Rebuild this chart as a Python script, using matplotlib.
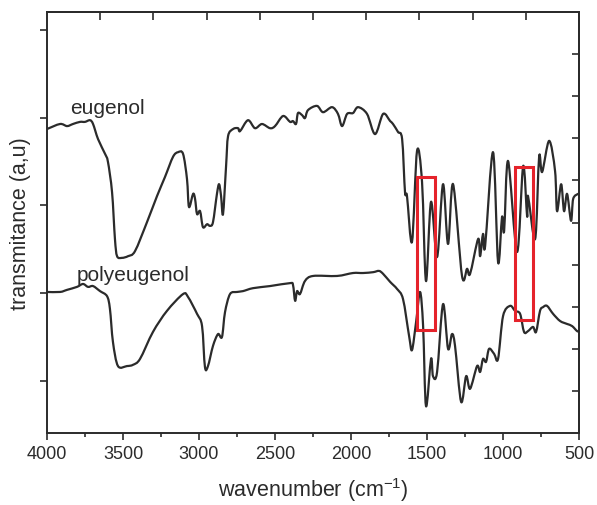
import numpy as np
import matplotlib.pyplot as plt
from matplotlib.patches import Rectangle, PathPatch
from matplotlib.path import Path

plt.rcParams['font.family'] = ['Liberation Sans', 'DejaVu Sans']
plt.rcParams['mathtext.fontset'] = 'custom'
plt.rcParams['mathtext.rm'] = 'Liberation Sans'

# eugenol spectrum (wavenumber, transmittance a.u.)
eug_wn = [4000, 3914, 3868, 3829, 3783, 3750, 3717, 3697, 3664, 3618, 3599, 3572, 3553, 3539,
          3507, 3467, 3421, 3342, 3276, 3224, 3171, 3138, 3105, 3079, 3066, 3039, 3026, 3013,
          2993, 2974, 2947, 2928, 2908, 2882, 2868, 2855, 2842, 2822, 2809, 2776, 2743, 2730,
          2678, 2632, 2586, 2533, 2500, 2447, 2401, 2382, 2362, 2349, 2322, 2303, 2283, 2224,
          2184, 2125, 2086, 2059, 2026, 1987, 1954, 1895, 1842, 1789, 1743, 1724, 1691, 1664,
          1645, 1632, 1599, 1566, 1533, 1507, 1474, 1434, 1395, 1362, 1329, 1270, 1237, 1217,
          1164, 1151, 1132, 1118, 1066, 1033, 1007, 993, 967, 908, 868, 842, 836, 789, 763,
          743, 697, 658, 645, 618, 599, 579, 553, 539, 507]
eug_t = [0.722, 0.734, 0.729, 0.734, 0.739, 0.739, 0.743, 0.734, 0.698, 0.663, 0.644, 0.572, 0.461, 0.420,
         0.416, 0.420, 0.432, 0.501, 0.563, 0.608, 0.656, 0.667, 0.663, 0.603, 0.537, 0.568, 0.556, 0.520,
         0.527, 0.489, 0.496, 0.492, 0.501, 0.568, 0.591, 0.563, 0.520, 0.634, 0.705, 0.722, 0.724, 0.717,
         0.743, 0.724, 0.734, 0.724, 0.729, 0.753, 0.739, 0.741, 0.734, 0.760, 0.755, 0.748, 0.767, 0.777,
         0.762, 0.774, 0.758, 0.729, 0.758, 0.760, 0.774, 0.758, 0.710, 0.758, 0.741, 0.734, 0.715, 0.698,
         0.572, 0.563, 0.454, 0.670, 0.596, 0.361, 0.549, 0.418, 0.591, 0.449, 0.591, 0.373, 0.390, 0.378,
         0.461, 0.420, 0.473, 0.444, 0.667, 0.406, 0.513, 0.480, 0.646, 0.430, 0.634, 0.515, 0.563, 0.461, 0.656,
         0.620, 0.694, 0.622, 0.527, 0.591, 0.527, 0.568, 0.504, 0.556, 0.568]

# polyeugenol spectrum
poly_wn = [4000, 3914, 3868, 3803, 3763, 3730, 3697, 3651, 3605, 3586, 3566, 3533, 3474, 3434,
           3388, 3303, 3211, 3105, 3072, 3013, 2980, 2961, 2941, 2908, 2875, 2849, 2829, 2796,
           2750, 2711, 2645, 2533, 2401, 2382, 2368, 2355, 2336, 2303, 2250, 2092, 1987, 1921,
           1855, 1816, 1789, 1743, 1697, 1658, 1618, 1599, 1572, 1546, 1526, 1507, 1474, 1461,
           1434, 1395, 1362, 1336, 1316, 1276, 1243, 1217, 1171, 1151, 1132, 1112, 1092, 1059,
           1033, 1000, 954, 921, 888, 862, 836, 803, 783, 757, 737, 711, 671, 625, 579, 546,
           513, 500]
poly_t = [0.335, 0.335, 0.340, 0.347, 0.354, 0.347, 0.349, 0.337, 0.325, 0.295, 0.216, 0.159, 0.159, 0.162,
          0.176, 0.240, 0.290, 0.330, 0.323, 0.283, 0.254, 0.157, 0.159, 0.207, 0.235, 0.228, 0.287, 0.330,
          0.335, 0.337, 0.344, 0.349, 0.356, 0.352, 0.314, 0.337, 0.330, 0.361, 0.373, 0.373, 0.380, 0.380,
          0.382, 0.385, 0.378, 0.359, 0.342, 0.318, 0.230, 0.197, 0.264, 0.335, 0.254, 0.064, 0.176, 0.135,
          0.145, 0.306, 0.200, 0.235, 0.207, 0.074, 0.135, 0.105, 0.159, 0.145, 0.176, 0.169, 0.200, 0.188,
          0.176, 0.278, 0.302, 0.290, 0.283, 0.240, 0.242, 0.252, 0.240, 0.290, 0.299, 0.302, 0.283, 0.266,
          0.259, 0.254, 0.242, 0.242]

# highlighted bands: (wn_high, wn_low, t_low, t_high)
boxes = [(1566, 1447, 0.245, 0.608), (921, 803, 0.268, 0.632)]

ink = '#2b2b2b'


def smooth_path(x, y, k=0.16):
    # bezier path through the points, Catmull-Rom style tangents
    x = np.asarray(x, float)
    y = np.asarray(y, float)
    verts = [(x[0], y[0])]
    codes = [Path.MOVETO]
    n = len(x)
    for i in range(n - 1):
        i0, i3 = max(i - 1, 0), min(i + 2, n - 1)
        c1 = (x[i] + k * (x[i + 1] - x[i0]), y[i] + k * (y[i + 1] - y[i0]))
        c2 = (x[i + 1] - k * (x[i3] - x[i]), y[i + 1] - k * (y[i3] - y[i]))
        verts += [c1, c2, (x[i + 1], y[i + 1])]
        codes += [Path.CURVE4] * 3
    return Path(verts, codes)


fig = plt.figure(figsize=(5.97, 5.06), dpi=100)
ax = fig.add_axes([0.0787, 0.1423, 0.8913, 0.832])

for wn, t in [(eug_wn, eug_t), (poly_wn, poly_t)]:
    ax.add_patch(PathPatch(smooth_path(wn, t), fill=False, ec=ink, lw=1.6,
                           joinstyle='round', capstyle='round'))

for hi, lo, b, t in boxes:
    ax.add_patch(Rectangle((lo, b), hi - lo, t - b, fill=False, ec='#e5232b', lw=2.2))

ax.text(3849, 0.760, 'eugenol', fontsize=15, color=ink)
ax.text(3803, 0.363, 'polyeugenol', fontsize=15, color=ink)

ax.set_xlim(4000, 500)
ax.set_ylim(0, 1)
ax.set_xticks(np.arange(4000, 499, -500))
ax.set_xticks(np.arange(3750, 500, -500), minor=True)
ax.set_yticks([0.124, 0.333, 0.541, 0.749, 0.957])
ax.set_yticklabels([])
ax.tick_params(axis='x', which='major', direction='out', length=5, width=1.2,
               labelsize=13, colors=ink, pad=4)
ax.tick_params(axis='x', which='minor', direction='out', length=3, width=1.2, colors=ink)
ax.tick_params(axis='y', direction='out', length=5, width=1.2, colors=ink)

top = ax.secondary_xaxis('top')
top.set_xticks(np.arange(3650, 800, -350))
top.set_xticklabels([])
top.tick_params(direction='in', length=6, width=1.2, colors=ink)
right = ax.secondary_yaxis('right')
right.set_yticks(np.arange(0.1, 0.95, 0.1))
right.set_yticklabels([])
right.tick_params(direction='in', length=5, width=1.2, colors=ink)

for sp in list(ax.spines.values()) + [top.spines['top'], right.spines['right']]:
    sp.set_linewidth(1.4)
    sp.set_color(ink)

ax.set_xlabel('wavenumber (cm$^{\\mathregular{-1}}$)', fontsize=15.5, color=ink, labelpad=9)
ax.set_ylabel('transmitance (a,u)', fontsize=15.5, color=ink, labelpad=3)

fig.savefig('out.png', dpi=100)
